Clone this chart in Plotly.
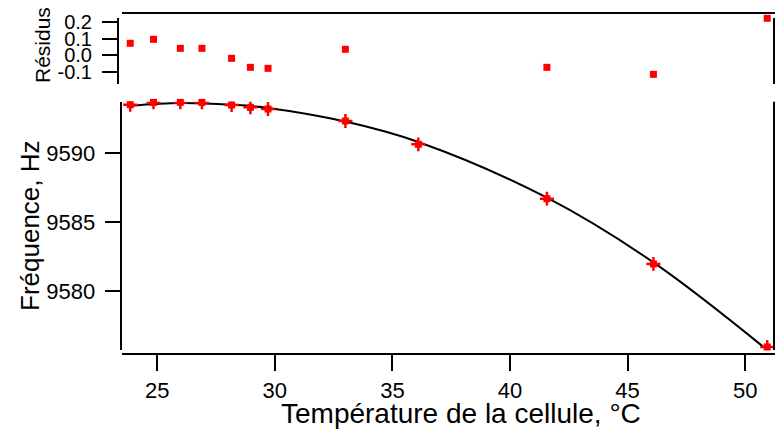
import plotly.graph_objects as go

# Measured points
temp_c = [23.85, 24.84, 25.98, 26.90, 28.16, 28.96, 29.71, 33.0, 36.1, 41.57, 46.1, 50.94]
freq_hz = [9593.50, 9593.67, 9593.67, 9593.67, 9593.48, 9593.31, 9593.19, 9592.32,
           9590.63, 9586.69, 9581.96, 9575.94]
err_temp = [0.3] * len(temp_c)
err_freq = [0.5] * len(temp_c)

# Residuals of the fit
residus = [0.072, 0.096, 0.042, 0.042, -0.018, -0.072, -0.078, 0.036,
           -0.174, -0.072, -0.114, 0.222]

# Fit curve
fit_T = [23.85, 25.98, 28.16, 29.71, 33.0, 36.1, 41.57, 46.1, 50.94]
fit_f = [9593.43, 9593.63, 9593.50, 9593.27, 9592.28, 9590.80, 9586.76, 9582.07, 9575.72]

x_ticks = [25, 30, 35, 40, 45, 50]
y_ticks = [9580, 9585, 9590]
r_ticks = [-0.1, 0.0, 0.1, 0.2]
r_labels = ['-0.1', '0.0', '0.1', '0.2']

FONT = 'Liberation Sans, Arial, sans-serif'
OFF = 8  # page body margin in the browser; the figure has to fit inside it
W, H = 784 - 2 * OFF, 432 - OFF
ML, MR, MT, MB = 118 - OFF, 1, 10 - OFF, 76
pw, ph = W - ML - MR, H - MT - MB


def px(xpix):
    return (xpix - OFF - ML) / pw


def py(ypix):
    return (H - MB - (ypix - OFF)) / ph


fig = go.Figure()

fig.add_trace(go.Scatter(x=fit_T, y=fit_f, mode='lines', line=dict(color='black', width=2, shape='spline'),
                         xaxis='x', yaxis='y', showlegend=False, hoverinfo='skip', cliponaxis=False))
fig.add_trace(go.Scatter(x=temp_c, y=freq_hz, mode='markers',
                         marker=dict(symbol='square', size=7, color='red'),
                         error_x=dict(type='data', array=err_temp, color='red', thickness=2.5, width=0),
                         error_y=dict(type='data', array=err_freq, color='red', thickness=2.5, width=0),
                         xaxis='x', yaxis='y', showlegend=False, cliponaxis=False))
fig.add_trace(go.Scatter(x=temp_c, y=residus, mode='markers',
                         marker=dict(symbol='square', size=7, color='red'),
                         xaxis='x2', yaxis='y2', showlegend=False, cliponaxis=False))

xrange = [23.487, 51.27]
axis_common = dict(showgrid=False, zeroline=False, linecolor='black', linewidth=2, automargin=False,
                   tickcolor='black', tickwidth=2, ticklen=15, ticks='outside',
                   tickfont=dict(family=FONT, size=22, color='black'))

fig.update_layout(
    width=W, height=H,
    margin=dict(l=ML, r=MR, t=MT, b=MB, autoexpand=False),
    paper_bgcolor='white', plot_bgcolor='white',
    font=dict(family=FONT, color='black'),
    xaxis=dict(axis_common, domain=[px(121.7), 1], range=xrange, anchor='free', position=py(354.3),
               tickvals=x_ticks, showline=True, ticklen=16),
    yaxis=dict(axis_common, domain=[py(350), py(101.7)], range=[9575.72, 9593.72], anchor='x',
               tickvals=y_ticks, showline=True, ticklabelstandoff=5),
    xaxis2=dict(axis_common, domain=[px(121.7), 1], range=xrange, anchor='free', position=py(12.7),
                side='top', showline=True, ticks='', showticklabels=False, matches='x'),
    yaxis2=dict(axis_common, domain=[py(84), py(18)], range=[-0.172, 0.2238], anchor='free', position=0,
                tickvals=r_ticks, ticktext=r_labels, showline=True, ticklabelstandoff=6,
                tickfont=dict(family=FONT, size=20, color='black')),
    shapes=[
        # right-hand frame lines of both panels
        dict(type='line', xref='paper', yref='paper', x0=0.9985, x1=0.9985, y0=py(350), y1=py(101.7),
             line=dict(color='black', width=2)),
        dict(type='line', xref='paper', yref='paper', x0=0.9985, x1=0.9985, y0=py(84), y1=py(18),
             line=dict(color='black', width=2)),
    ],
    annotations=[
        dict(text='Température de la cellule, °C', xref='paper', yref='paper', x=px(461), y=py(413),
             xanchor='center', yanchor='middle', showarrow=False, font=dict(family=FONT, size=28)),
        dict(text='Fréquence, Hz', xref='paper', yref='paper', x=px(30), y=py(226), textangle=-90,
             xanchor='center', yanchor='middle', showarrow=False, font=dict(family=FONT, size=26)),
        dict(text='Résidus', xref='paper', yref='paper', x=px(42), y=py(45), textangle=-90,
             xanchor='center', yanchor='middle', showarrow=False, font=dict(family=FONT, size=21)),
    ],
)

fig.write_html("out.html")
